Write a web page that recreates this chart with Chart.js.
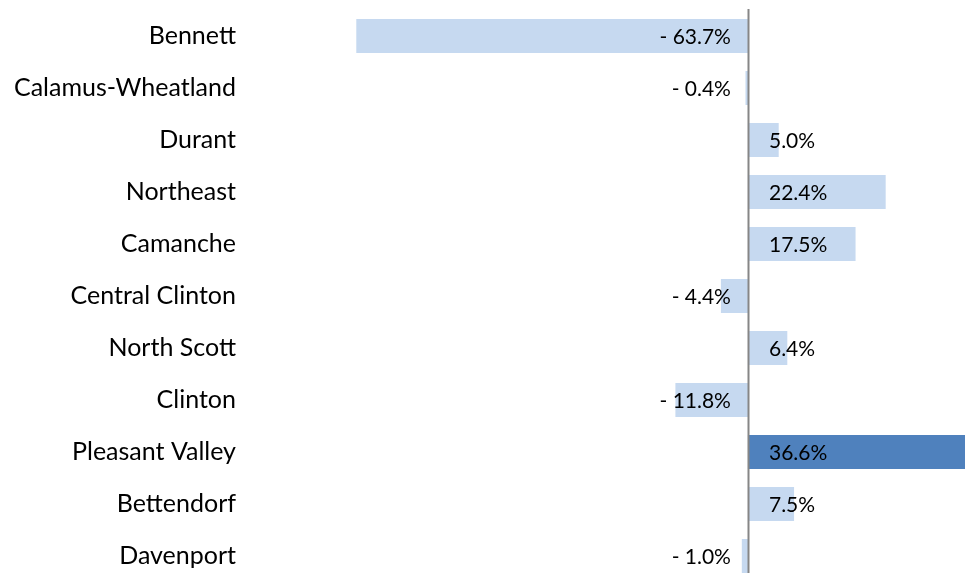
<!DOCTYPE html>
<html lang="en">
<head>
    <meta charset="UTF-8">
    <title>Change by district</title>
    <style>
        html, body { margin: 0; padding: 0; overflow: hidden; background: #fff; }
        #wrap { width: 965px; height: 592px; }
    </style>
</head>
<body>
    <div id="wrap"><canvas id="chart"></canvas></div>

    <script src="https://cdn.jsdelivr.net/npm/chart.js"></script>
    <script>
        // districts, top to bottom
        const districts = ["Bennett", "Calamus-Wheatland", "Durant", "Northeast", "Camanche",
            "Central Clinton", "North Scott", "Clinton", "Pleasant Valley", "Bettendorf", "Davenport"];
        const change = [-63.7, -0.4, 5.0, 22.4, 17.5, -4.4, 6.4, -11.8, 36.6, 7.5, -1.0];
        const highlight = "Pleasant Valley";

        const FONT = "Lato, 'Open Sans', sans-serif";

        const fmt = v => (v < 0 ? "- " + Math.abs(v).toFixed(1) : v.toFixed(1)) + "%";

        // vertical axis line at zero
        const zeroLine = {
            id: "zeroLine",
            afterDatasetsDraw(chart) {
                const x = Math.round(chart.scales.x.getPixelForValue(0)) + 0.5;
                const ctx = chart.ctx;
                ctx.save();
                ctx.strokeStyle = "#868686";
                ctx.lineWidth = 2;
                ctx.beginPath();
                ctx.moveTo(x, chart.chartArea.top - 1);
                ctx.lineTo(x, chart.chartArea.bottom);
                ctx.stroke();
                ctx.restore();
            }
        };

        // value labels next to the zero line
        const valueLabels = {
            id: "valueLabels",
            afterDraw(chart) {
                const ctx = chart.ctx;
                const x0 = chart.scales.x.getPixelForValue(0);
                const meta = chart.getDatasetMeta(0);
                ctx.save();
                ctx.font = "21px " + FONT;
                ctx.fillStyle = "#000";
                ctx.textBaseline = "middle";
                meta.data.forEach((bar, i) => {
                    const v = change[i];
                    if (v < 0) {
                        ctx.textAlign = "right";
                        ctx.fillText(fmt(v), x0 - 17, bar.y + 1);
                    } else {
                        ctx.textAlign = "left";
                        ctx.fillText(fmt(v), x0 + 21, bar.y + 1);
                    }
                });
                ctx.restore();
            }
        };

        new Chart(document.getElementById("chart"), {
            type: "bar",
            data: {
                labels: districts,
                datasets: [{
                    data: change,
                    backgroundColor: districts.map(d => d === highlight ? "#4f81bd" : "#c6d9f0"),
                    borderWidth: 0,
                    categoryPercentage: 1,
                    barPercentage: 0.654
                }]
            },
            options: {
                indexAxis: "y",
                responsive: true,
                maintainAspectRatio: false,
                animation: false,
                layout: { padding: { top: 10, bottom: 10, left: 0, right: 0 } },
                plugins: {
                    legend: { display: false },
                    tooltip: { enabled: false }
                },
                scales: {
                    x: {
                        display: false,
                        min: -81.8,
                        max: 35.3
                    },
                    y: {
                        grid: { display: false, drawTicks: false },
                        border: { display: false },
                        ticks: {
                            color: "#000",
                            padding: 9,
                            font: { family: FONT, size: 25 }
                        },
                        afterFit(scale) {
                            scale.width = 245;
                            scale.paddingTop = 0;
                            scale.paddingBottom = 0;
                        }
                    }
                }
            },
            plugins: [zeroLine, valueLabels]
        });
    </script>
</body>
</html>
